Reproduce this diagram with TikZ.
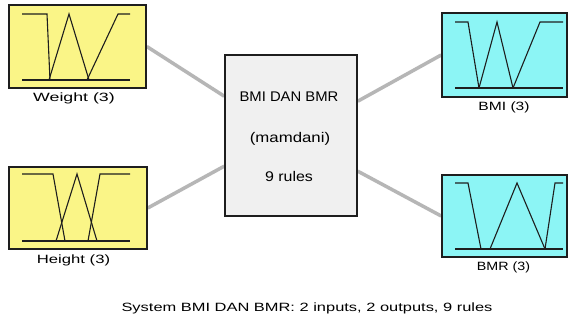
\documentclass[tikz,border=0pt]{standalone}
\usepackage{fontspec}
\setmainfont{Liberation Sans}
\usepackage{graphicx}
\definecolor{mfyellow}{RGB}{250,245,135}
\definecolor{mfcyan}{RGB}{140,245,245}
\definecolor{sysgray}{RGB}{240,240,240}
\definecolor{linkgray}{RGB}{182,182,182}
\definecolor{edgecol}{RGB}{30,30,30}
\newcommand{\sx}[2]{\scalebox{#1}[1]{#2}}
\pgfdeclarelayer{bg}
\pgfsetlayers{bg,main}
\begin{document}
\begin{tikzpicture}[x=1pt,y=-1pt,
  boxbase/.style={draw=edgecol,line width=1.6pt,inner sep=0pt},
  inbox/.style={boxbase,fill=mfyellow},
  outbox/.style={boxbase,fill=mfcyan},
  sysbox/.style={boxbase,fill=sysgray},
  mf/.style={draw=edgecol,line width=1.1pt,line join=miter},
  link/.style={draw=linkgray,line width=3.5pt},
  lab/.style={anchor=base,inner sep=0pt,font=\fontsize{12}{12}\selectfont},
  systxt/.style={anchor=base,inner sep=0pt,font=\fontsize{14}{14}\selectfont}]
\useasboundingbox (0,0) rectangle (572,334);

% boxes
\node[inbox,minimum width=137pt,minimum height=83pt] (w) at (77.5,46.5) {};
\node[inbox,minimum width=138pt,minimum height=82pt] (h) at (78,208) {};
\node[outbox,minimum width=125pt,minimum height=84pt] (bmi) at (504.5,55) {};
\node[outbox,minimum width=125pt,minimum height=82pt] (bmr) at (504.5,216) {};
\node[sysbox,minimum width=132pt,minimum height=161pt] (sys) at (291,135.5) {};

% connection points on the system box
\path (sys.north west) ++(0,42) coordinate (sl1);
\path (sys.north west) ++(0,112) coordinate (sl2);
\path (sys.north east) ++(0,47) coordinate (sr1);
\path (sys.north east) ++(0,117) coordinate (sr2);

\begin{pgfonlayer}{bg}
\fill[white] (0,0) rectangle (572,334);
\draw[link] (w.east) -- (sl1);
\draw[link] (h.east) -- (sl2);
\draw[link] (sr1) -- (bmi.west);
\draw[link] (sr2) -- (bmr.west);
\end{pgfonlayer}

% membership functions: Weight
\draw[mf] (22,80) -- (130,80);
\draw[mf] (22,14) -- (47,14) -- (50,80);
\draw[mf] (49,80) -- (69,14) -- (89,80);
\draw[mf] (87,80) -- (118,14) -- (130,14);
% Height
\draw[mf] (22,241) -- (130,241);
\draw[mf] (22,174) -- (53,174) -- (65,241);
\draw[mf] (56,241) -- (77,174) -- (97,241);
\draw[mf] (88,241) -- (100,174) -- (130,174);
% BMI
\draw[mf] (455,88) -- (563,88);
\draw[mf] (455,22) -- (468,22) -- (479,88);
\draw[mf] (479,88) -- (497,22) -- (513,88);
\draw[mf] (513,88) -- (540,22) -- (563,22);
% BMR
\draw[mf] (455,249) -- (563,249);
\draw[mf] (455,183) -- (468,183) -- (481,249);
\draw[mf] (490,249) -- (517,183) -- (545,249);
\draw[mf] (545,249) -- (555,183) -- (563,183);

% labels
\node[lab] (wl) at (74,101.5) {\sx{1.48}{Weight (3)}};
\node[lab] (hl) at (73.5,263.5) {\sx{1.39}{Height (3)}};
\node[lab] (bmil) at (504,110.5) {\sx{1.3}{BMI (3)}};
\node[lab] (bmrl) at (503.5,270.5) {\sx{1.19}{BMR (3)}};

\node[systxt] (t1) at (289,102) {\sx{1.06}{BMI DAN BMR}};
\node[systxt] (t2) at (290,142) {\sx{1.2}{(mamdani)}};
\node[systxt] (t3) at (289,181) {\sx{1.14}{9 rules}};

\node[lab] (cap) at (307,311) {\sx{1.37}{System BMI DAN BMR: 2 inputs, 2 outputs, 9 rules}};
\end{tikzpicture}
\end{document}
